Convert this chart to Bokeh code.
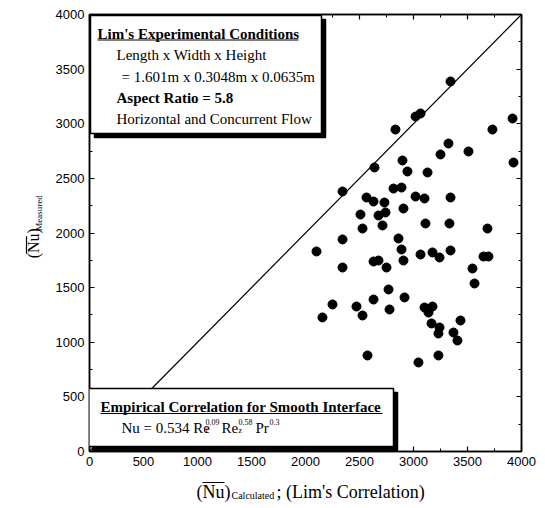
import math
from bokeh.plotting import figure
from bokeh.layouts import row, column
from bokeh.models import Range1d, LinearAxis, FixedTicker, Label, BoxAnnotation, ColumnDataSource
from bokeh.core.properties import value
from bokeh.embed import file_html
from bokeh.resources import INLINE

# ---------------- data ----------------
nu_calculated = [3343, 2833, 3019, 3065, 3917, 3731, 3324, 3509, 3250, 2898,
                 3926, 2639, 2944, 3130, 2343, 2815, 2889, 2565, 2630, 2731,
                 3019, 3102, 3343, 2907, 2509, 2676, 2741, 2528, 2713, 3111,
                 3333, 3685, 2343, 2861, 2102, 2889, 3065, 3176, 3241, 3343,
                 2907, 2630, 2676, 2750, 2343, 3648, 3694, 3546, 3565, 2769,
                 2917, 2630, 2250, 2472, 2778, 3102, 3176, 3139, 2157, 2528,
                 3435, 3167, 3241, 3231, 3370, 3407, 2574, 3046, 3231]
nu_measured = [3387, 2947, 3066, 3094, 3048, 2947, 2819, 2746, 2719, 2664,
               2645, 2600, 2563, 2554, 2380, 2407, 2416, 2325, 2288, 2279,
               2334, 2316, 2325, 2224, 2169, 2160, 2188, 2041, 2069, 2087,
               2087, 2041, 1941, 1950, 1831, 1849, 1803, 1822, 1776, 1840,
               1748, 1739, 1748, 1684, 1684, 1785, 1785, 1675, 1538, 1483,
               1410, 1391, 1346, 1327, 1300, 1318, 1327, 1272, 1227, 1245,
               1199, 1172, 1135, 1080, 1089, 1016, 879, 815, 879]
identity_x = [0, 4000]
identity_y = [0, 4000]
major_ticks = [0, 500, 1000, 1500, 2000, 2500, 3000, 3500, 4000]
minor_ticks = [250, 750, 1250, 1750, 2250, 2750, 3250, 3750]

# ---------------- layout (page pixels) ----------------
W, H = 545, 508
YLAB_W = 50          # strip left of the main plot holding the y label
MAIN_H = 475         # height of the row holding the main plot
FL, FR, FT, FB = 89, 521, 14, 451   # frame edges in page pixels
DY = 4  # baseline correction for Bokeh labels


def X(px):
    return (px - FL) / (FR - FL) * 4000.0


def Y(py):
    return (FB - py) / (FB - FT) * 4000.0


p = figure(width=W - YLAB_W, height=MAIN_H, output_backend="svg", toolbar_location=None,
           x_range=Range1d(0, 4000), y_range=Range1d(0, 4000),
           min_border_left=FL - YLAB_W, min_border_right=W - FR,
           min_border_top=FT, min_border_bottom=MAIN_H - FB,
           x_axis_location=None, y_axis_location=None)
p.grid.visible = False
p.outline_line_color = "black"
p.outline_line_width = 1.5
p.background_fill_color = "white"
p.border_fill_color = "white"


def make_axis(show_labels):
    ax = LinearAxis(ticker=FixedTicker(ticks=major_ticks, minor_ticks=minor_ticks))
    ax.axis_line_color = "black"
    ax.axis_line_width = 1.5
    ax.major_tick_in = 5
    ax.major_tick_out = 0
    ax.minor_tick_in = 3
    ax.minor_tick_out = 0
    ax.major_tick_line_color = "black"
    ax.minor_tick_line_color = "black"
    ax.major_tick_line_width = 1.2
    ax.major_label_text_font = "Liberation Sans"
    ax.major_label_text_font_size = "13px"
    ax.major_label_text_color = "black"
    ax.major_label_standoff = 5
    if not show_labels:
        ax.major_label_text_alpha = 0
        ax.major_label_text_font_size = "1px"
        ax.major_label_standoff = 0
    return ax


p.add_layout(make_axis(True), "below")
p.add_layout(make_axis(True), "left")
p.add_layout(make_axis(False), "above")
p.add_layout(make_axis(False), "right")

# 1:1 line and data points
p.line(identity_x, identity_y, line_color="black", line_width=1.2)
src = ColumnDataSource(dict(x=nu_calculated, y=nu_measured))
p.scatter("x", "y", source=src, marker="circle", size=9, color="black")


def box(l, r, t, b, fill):
    p.add_layout(BoxAnnotation(left=X(l), right=X(r), top=Y(t), bottom=Y(b),
                               fill_color=fill, fill_alpha=1.0,
                               line_color="black", line_width=1.5, line_alpha=1.0))


def hline(x0, x1, yy, w=1.0):
    p.add_layout(BoxAnnotation(left=X(x0), right=X(x1), top=Y(yy - w / 2), bottom=Y(yy + w / 2),
                               fill_color="black", fill_alpha=1.0, line_alpha=0))


def txt(s, px, py, size, bold=False):
    p.add_layout(Label(x=X(px), y=Y(py - DY), text=s, text_font="Liberation Serif",
                       text_font_size=f"{size}px", text_color="black",
                       text_font_style="bold" if bold else "normal",
                       text_baseline="alphabetic", text_align="left"))


# legend box 1
box(94, 325, 19, 137, "black")
box(90, 321, 15, 133, "white")
txt("Lim's Experimental Conditions", 97, 37, 15, bold=True)
hline(97, 298, 39.5)
txt("Length x Width x Height", 116, 58, 15)
txt("= 1.601m x 0.3048m x 0.0635m", 121, 80, 15)
txt("Aspect Ratio = 5.8", 116, 101, 15, bold=True)
txt("Horizontal and Concurrent Flow", 116, 122, 15)

# legend box 2
box(92, 397, 392, 450, "black")
box(88, 393, 388, 446, "white")
txt("Empirical Correlation for Smooth Interface", 100, 410, 15, bold=True)
hline(100, 382, 413)
txt("Nu = 0.534 Re", 121, 431, 15)
txt("f", 205, 434, 8)
txt("0.09", 205, 425, 8)
txt("Re", 221, 431, 15)
txt("z", 238, 434, 8)
txt("0.58", 238, 425, 8)
txt("Pr", 255, 431, 15)
txt("0.3", 269, 425, 8)


# ---------------- axis-title strips ----------------
def strip(w, h):
    f = figure(width=w, height=h, output_backend="svg", toolbar_location=None,
               x_range=Range1d(0, w), y_range=Range1d(0, h),
               min_border=0, x_axis_location=None, y_axis_location=None)
    f.grid.visible = False
    f.outline_line_color = None
    f.border_fill_color = "white"
    f.background_fill_color = "white"
    return f


# y label strip: page x 0..YLAB_W, page y 0..MAIN_H
ys = strip(YLAB_W, MAIN_H)


def ytxt(s, bx, by, size):
    # rotated text; bx = baseline x (page), by = start y (page, lower end)
    ys.text(x=[bx - DY], y=[MAIN_H - by], text=[s], text_font=value("Liberation Serif"),
            text_font_size=value(f"{size}px"), text_color="black",
            text_baseline="alphabetic", text_align="left", angle=math.pi / 2)


ytxt("(Nu)", 37, 265, 16)
ys.line(x=[26, 26], y=[MAIN_H - 260, MAIN_H - 241], line_color="black", line_width=1.2)
ytxt("Measured", 42, 235, 9)

# x label strip: page x 0..W, page y MAIN_H..H
xs = strip(W, H - MAIN_H)


def xtxt(s, bx, by, size):
    xs.text(x=[bx], y=[H - (by - DY)], text=[s], text_font=value("Liberation Serif"),
            text_font_size=value(f"{size}px"), text_color="black",
            text_baseline="alphabetic", text_align="left")


xtxt("(Nu)", 196, 495, 18)
xs.line(x=[202, 224], y=[H - 482, H - 482], line_color="black", line_width=1.2)
xtxt("Calculated", 231, 499, 10)
xtxt("; (Lim's Correlation)", 276, 495, 18)

layout = column(row(ys, p, spacing=0), xs, spacing=0)

open("out.html", "w").write(file_html(layout, INLINE))
